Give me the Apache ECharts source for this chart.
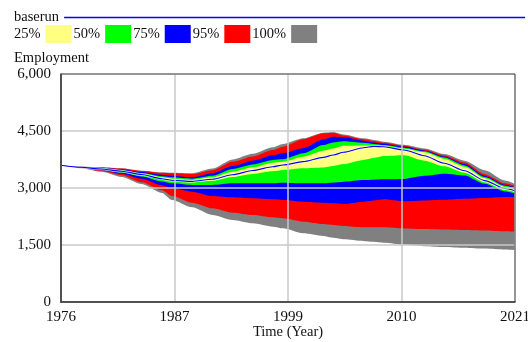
<!DOCTYPE html>
<html>
<head>
<meta charset="utf-8">
<title>Employment sensitivity</title>
<script src="https://cdn.jsdelivr.net/npm/echarts@6/dist/echarts.min.js"></script>
<style>
  html, body { margin: 0; padding: 0; background: #fff; }
  #chart { width: 528px; height: 342px; }
</style>
</head>
<body>
<div id="chart"></div>
<script>
// Simulation years (Time axis)
const years = [1976,1978,1980,1982,1984,1986,1987,1989,1991,1993,1995,1997,1998,2000,2002,2003,2004,2006,2007,2008,2010,2012,2014,2016,2018,2020,2021];

// Confidence bounds of Employment across the sensitivity runs
const max100 = [3600,3565,3545,3515,3455,3410,3404,3386,3510,3750,3900,4070,4158,4307,4456,4465,4410,4307,4265,4219,4135,4040,3895,3720,3470,3200,3110];
const max95  = [3600,3562,3540,3510,3450,3400,3386,3368,3470,3690,3830,4000,4088,4281,4439,4456,4380,4281,4237,4190,4115,4010,3855,3670,3365,3125,3053];
const max75  = [3600,3558,3530,3490,3420,3350,3325,3281,3390,3580,3720,3860,3912,4044,4281,4350,4340,4246,4200,4165,4090,3985,3830,3630,3320,3085,3018];
const max50  = [3600,3554,3520,3470,3395,3310,3281,3246,3320,3500,3620,3737,3754,3912,4132,4200,4230,4190,4160,4130,4060,3965,3800,3595,3290,3060,2991];
const max25  = [3600,3550,3510,3455,3375,3280,3246,3211,3280,3430,3545,3667,3693,3825,3983,4040,4110,4120,4110,4095,4030,3940,3765,3560,3255,3025,2965];
const min25  = [3600,3543,3492,3428,3340,3225,3184,3149,3190,3290,3370,3440,3474,3518,3540,3580,3630,3740,3790,3840,3860,3720,3570,3400,3150,2950,2904];
const min50  = [3600,3539,3480,3405,3300,3170,3123,3079,3079,3123,3123,3123,3140,3123,3123,3145,3167,3211,3220,3228,3240,3320,3375,3330,3110,2910,2860];
const min75  = [3600,3535,3465,3375,3245,3070,2991,2904,2790,2754,2728,2702,2684,2640,2614,2597,2579,2640,2670,2702,2650,2672,2690,2715,2735,2760,2772];
const min95  = [3600,3528,3445,3335,3150,2940,2790,2614,2465,2351,2289,2228,2202,2114,2053,2026,2000,1965,1965,1965,1935,1918,1905,1892,1880,1860,1851];
const min100 = [3600,3520,3425,3290,3105,2870,2684,2491,2289,2158,2070,1982,1939,1807,1737,1690,1649,1605,1583,1561,1510,1470,1450,1430,1405,1380,1368];

// Base run
const baserun = [3600,3546,3500,3440,3355,3245,3202,3175,3230,3350,3460,3561,3605,3693,3807,3870,3940,4060,4095,4085,4000,3850,3650,3455,3195,2985,2930];

// Axis ticks
const yTicks = [0, 1500, 3000, 4500, 6000];
const START = 1976, END = 2021;

const bandNames  = ['25%', '50%', '75%', '95%', '100%'];
const bandColors = { '25%': '#ffff80', '50%': '#00ff00', '75%': '#0000ff', '95%': '#ff0000', '100%': '#808080' };

const FONT = 'Liberation Serif, Times New Roman, serif';
const TEXT = '#111';
const SMOOTH = 0.25;

const pts = arr => years.map((y, i) => [y - START, arr[i]]);

// Each bound is filled down to the axis; painting outer bounds first and
// inner ones over them leaves each confidence band in its own colour.
function fill(name, arr, color) {
  return {
    name, type: 'line', smooth: SMOOTH, smoothMonotone: 'x',
    symbol: 'none', showSymbol: false, color,
    lineStyle: { width: 0 },
    areaStyle: { color, opacity: 1, origin: 'start' },
    data: pts(arr), z: 2, silent: true
  };
}

const series = [
  fill('100%', max100, bandColors['100%']),
  fill('95%',  max95,  bandColors['95%']),
  fill('75%',  max75,  bandColors['75%']),
  fill('50%',  max50,  bandColors['50%']),
  fill('25%',  max25,  bandColors['25%']),
  fill('50%',  min25,  bandColors['50%']),
  fill('75%',  min50,  bandColors['75%']),
  fill('95%',  min75,  bandColors['95%']),
  fill('100%', min95,  bandColors['100%']),
  fill('below', min100, '#ffffff'),
  { name: 'halo', type: 'line', smooth: SMOOTH, smoothMonotone: 'x', symbol: 'none',
    lineStyle: { width: 2.6, color: 'rgba(255,255,255,0.65)' }, data: pts(baserun), z: 2, silent: true },
  { name: 'baserun', type: 'line', smooth: SMOOTH, smoothMonotone: 'x', symbol: 'none', color: '#0000ff',
    lineStyle: { width: 1.1, color: '#0000ff' }, data: pts(baserun), z: 2, silent: true }
];

const chart = echarts.init(document.getElementById('chart'), null, { renderer: 'canvas' });
chart.setOption({
  animation: false,
  backgroundColor: '#fff',
  textStyle: { fontFamily: FONT, color: TEXT },
  title: {
    text: 'Employment', left: 14, top: 51, padding: 0,
    textStyle: { fontFamily: FONT, fontSize: 14.5, fontWeight: 'normal', color: TEXT }
  },
  legend: [
    {
      left: 14, top: 10, padding: 0, align: 'right', selectedMode: false,
      itemWidth: 461, itemHeight: 1.5,
      textStyle: { fontFamily: FONT, fontSize: 14.5, color: TEXT },
      data: [{ name: 'baserun', icon: 'rect', itemStyle: { color: '#0000ff' } }]
    },
    {
      left: 14, top: 25, padding: 0, align: 'right', selectedMode: false,
      itemWidth: 26, itemHeight: 18, itemGap: 2,
      textStyle: { fontFamily: FONT, fontSize: 14.5, color: TEXT },
      data: bandNames.map(n => ({ name: n, icon: 'rect', itemStyle: { color: bandColors[n] } }))
    }
  ],
  grid: {
    left: 61, right: 13, top: 74, bottom: 40, outerBoundsMode: 'none', containLabel: false,
    show: true, borderColor: '#555', borderWidth: 1, backgroundColor: 'transparent', z: 4
  },
  xAxis: {
    type: 'value', min: 0, max: END - START, interval: (END - START) / 4, z: 3,
    name: 'Time (Year)', nameLocation: 'middle', nameGap: 23, nameMoveOverlap: false,
    nameTextStyle: { fontFamily: FONT, fontSize: 14.5, color: TEXT, verticalAlign: 'top' },
    axisLine: { show: true, lineStyle: { color: '#222', width: 1.5 } },
    axisTick: { show: false },
    axisLabel: { margin: 8, fontFamily: FONT, fontSize: 15, color: TEXT,
      formatter: v => String(Math.round(START + v)) },
    splitLine: { show: true, lineStyle: { color: '#c8c8c8', width: 1.5 } }
  },
  yAxis: {
    type: 'value', min: yTicks[0], max: yTicks[yTicks.length - 1],
    interval: yTicks[1] - yTicks[0], z: 3,
    axisLine: { show: true, lineStyle: { color: '#222', width: 1.5 } },
    axisTick: { show: false },
    axisLabel: { margin: 10, fontFamily: FONT, fontSize: 15, color: TEXT,
      formatter: v => v.toLocaleString('en-US') },
    splitLine: { show: true, lineStyle: { color: '#c8c8c8', width: 1.5 } }
  },
  series
});
</script>
</body>
</html>
